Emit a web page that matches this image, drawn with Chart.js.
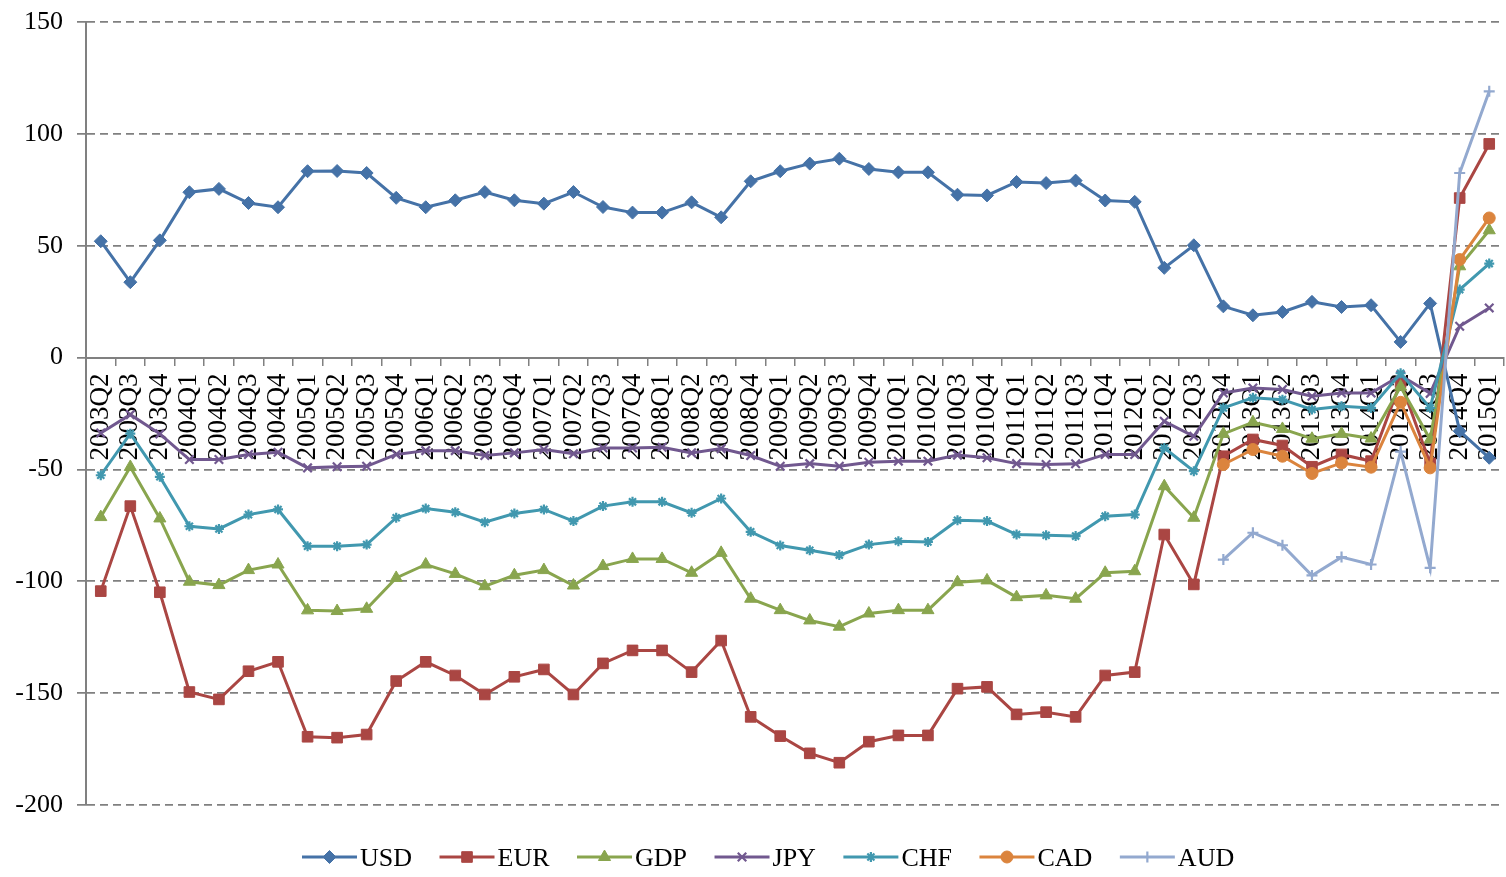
<!DOCTYPE html>
<html>
<head>
<meta charset="utf-8">
<title>Currency chart</title>
<script src="https://cdn.jsdelivr.net/npm/chart.js@4/dist/chart.umd.min.js"></script>
<style>
  html, body { margin: 0; padding: 0; background: #fff; }
  #fxChart { display: block; }
</style>
</head>
<body>
<canvas id="fxChart" width="1506" height="877"></canvas>
<script>
const quarters = [
    '2003Q2', '2003Q3', '2003Q4',
    '2004Q1', '2004Q2', '2004Q3', '2004Q4',
    '2005Q1', '2005Q2', '2005Q3', '2005Q4',
    '2006Q1', '2006Q2', '2006Q3', '2006Q4',
    '2007Q1', '2007Q2', '2007Q3', '2007Q4',
    '2008Q1', '2008Q2', '2008Q3', '2008Q4',
    '2009Q1', '2009Q2', '2009Q3', '2009Q4',
    '2010Q1', '2010Q2', '2010Q3', '2010Q4',
    '2011Q1', '2011Q2', '2011Q3', '2011Q4',
    '2012Q1', '2012Q2', '2012Q3', '2012Q4',
    '2013Q1', '2013Q2', '2013Q3', '2013Q4',
    '2014Q1', '2014Q2', '2014Q3', '2014Q4',
    '2015Q1'
];

const usd = [
    52.0, 33.7, 52.4, 73.9, 75.4, 69.1, 67.2, 83.3, 83.4, 82.5, 71.4, 67.2,
    70.3, 74.0, 70.3, 68.8, 74.0, 67.3, 64.8, 64.8, 69.4, 62.7, 78.8, 83.3,
    86.7, 88.9, 84.3, 82.8, 82.8, 72.8, 72.5, 78.5, 78.0, 79.1, 70.2, 69.6,
    40.1, 50.2, 22.9, 18.9, 20.4, 24.9, 22.6, 23.4, 7.0, 24.2, -32.9, -44.8
];

const eur = [
    -104.4, -66.4, -104.9, -149.5, -152.8, -140.2, -136.0, -169.5, -169.9, -168.5, -144.6, -136.0,
    -142.1, -150.6, -142.7, -139.4, -150.6, -136.7, -130.9, -130.9, -140.6, -126.5, -160.6, -169.2,
    -176.9, -181.1, -171.7, -168.9, -168.9, -148.0, -147.2, -159.5, -158.5, -160.6, -142.1, -140.6,
    -79.1, -101.4, -44.1, -36.6, -39.3, -48.8, -43.3, -46.3, -11.0, -47.3, 71.3, 95.5
];

const gdp = [
    -71.3, -48.9, -71.9, -100.2, -101.7, -95.0, -92.5, -113.0, -113.3, -112.3, -98.5, -92.5,
    -96.7, -102.2, -97.3, -95.0, -101.9, -93.2, -90.0, -90.0, -96.2, -87.3, -107.8, -112.9,
    -117.5, -120.3, -114.4, -112.9, -112.9, -100.4, -99.6, -107.1, -106.3, -107.8, -96.2, -95.5,
    -57.5, -71.6, -34.1, -28.9, -31.9, -36.3, -34.1, -36.2, -13.0, -36.6, 40.8, 56.9
];

const jpy = [
    -33.7, -25.5, -34.1, -45.6, -45.6, -43.3, -42.3, -49.3, -48.8, -48.6, -43.3, -41.6,
    -41.6, -43.8, -42.6, -41.1, -43.0, -40.4, -40.4, -40.1, -42.6, -40.7, -43.8, -48.6,
    -47.4, -48.6, -46.8, -46.3, -46.3, -43.6, -44.8, -47.4, -47.8, -47.5, -43.3, -43.3,
    -28.5, -35.2, -15.8, -13.6, -14.3, -17.3, -15.8, -15.8, -8.0, -16.0, 14.0, 22.2
];

const chf = [
    -52.6, -34.0, -53.3, -75.4, -76.6, -70.2, -67.9, -84.3, -84.3, -83.6, -71.6, -67.5,
    -69.1, -73.6, -69.7, -67.9, -73.1, -66.4, -64.5, -64.5, -69.4, -63.0, -77.9, -84.0,
    -86.1, -88.3, -83.6, -82.1, -82.4, -72.7, -73.1, -79.1, -79.4, -79.8, -70.9, -70.2,
    -40.4, -50.8, -22.5, -18.0, -18.8, -23.2, -21.8, -22.5, -7.0, -22.5, 30.4, 42.0
];

// CAD and AUD only start in 2012Q4
const cad = [
    null, null, null, null, null, null, null, null, null, null, null, null,
    null, null, null, null, null, null, null, null, null, null, null, null,
    null, null, null, null, null, null, null, null, null, null, null, null,
    null, null, -47.8, -41.1, -44.1, -51.8, -47.1, -49.0, -20.0, -49.3, 43.8, 62.4
];

const aud = [
    null, null, null, null, null, null, null, null, null, null, null, null,
    null, null, null, null, null, null, null, null, null, null, null, null,
    null, null, null, null, null, null, null, null, null, null, null, null,
    null, null, -90.3, -78.3, -83.9, -97.4, -89.2, -92.5, -42.0, -94.0, 82.5, 119.0
];

const yMin = -200;
const yMax = 150;
const yStep = 50;

const serif = '"Liberation Serif", "Times New Roman", serif';
const gridGray = '#808080';

let series = (label, data, color, pointStyle, radius, order, stroked) => {
    return {
        label: label,
        data: data,
        borderColor: color,
        backgroundColor: color,
        borderWidth: 3,
        pointStyle: pointStyle,
        pointRadius: radius,
        pointBorderWidth: stroked ? 2.2 : 1,
        pointBorderColor: color,
        pointBackgroundColor: color,
        tension: 0,
        spanGaps: false,
        order: order
    };
};

// scales should not push the plot area around, layout padding does that
let noScalePadding = (scale) => {
    scale.paddingTop = 0;
    scale.paddingBottom = 0;
    scale.paddingLeft = 0;
    scale.paddingRight = 0;
};

// legend drawn by hand: line sample with the marker sitting on it
const lineLegend = {
    id: 'lineLegend',
    afterDraw: (chart) => {
        const ctx = chart.ctx;
        const y = 857;
        let x = 302;
        ctx.save();
        ctx.font = '26px ' + serif;
        ctx.textBaseline = 'alphabetic';
        chart.data.datasets.forEach(ds => {
            ctx.strokeStyle = ds.borderColor;
            ctx.lineWidth = 3;
            ctx.beginPath();
            ctx.moveTo(x, y);
            ctx.lineTo(x + 55, y);
            ctx.stroke();

            ctx.fillStyle = ds.borderColor;
            ctx.lineWidth = ds.pointBorderWidth;
            if (Chart.helpers && Chart.helpers.drawPoint) {
                Chart.helpers.drawPoint(ctx, {
                    pointStyle: ds.pointStyle,
                    radius: ds.pointRadius,
                    borderWidth: ds.pointBorderWidth,
                    rotation: 0
                }, x + 27.5, y);
            }

            ctx.fillStyle = '#000';
            ctx.fillText(ds.label, x + 58, y + 9);
            x += 58 + ctx.measureText(ds.label).width + 27.5;
        });
        ctx.restore();
    }
};

var ctx = document.getElementById('fxChart').getContext('2d');
var fxChart = new Chart(ctx, {
    type: 'line',
    data: {
        labels: quarters,
        datasets: [
            series('USD', usd, '#4572A7', 'rectRot', 6.5, 7, false),
            series('EUR', eur, '#AA4643', 'rect', 7.5, 6, false),
            series('GDP', gdp, '#89A54E', 'triangle', 7, 5, false),
            series('JPY', jpy, '#71588F', 'crossRot', 6, 4, true),
            series('CHF', chf, '#4198AF', 'star', 5, 3, true),
            series('CAD', cad, '#DB843D', 'circle', 6, 2, false),
            series('AUD', aud, '#93A9CF', 'cross', 5.5, 1, true)
        ]
    },
    options: {
        responsive: false,
        animation: false,
        layout: {
            autoPadding: false,
            padding: { top: 22, right: 2, bottom: 72, left: 0 }
        },
        plugins: {
            legend: { display: false },
            tooltip: { enabled: false }
        },
        scales: {
            x: {
                type: 'category',
                position: { y: 0 },
                offset: true,
                afterFit: (scale) => {
                    scale.height = 0;
                    noScalePadding(scale);
                },
                grid: {
                    offset: true,
                    drawOnChartArea: false,
                    drawTicks: true,
                    tickLength: 7,
                    color: gridGray,
                    lineWidth: 1.5
                },
                border: { display: true, color: gridGray, width: 2 },
                ticks: {
                    autoSkip: false,
                    minRotation: 90,
                    maxRotation: 90,
                    padding: 9,
                    color: '#000',
                    font: { family: serif, size: 27 }
                }
            },
            y: {
                min: yMin,
                max: yMax,
                afterFit: (scale) => {
                    scale.width = 86;
                    noScalePadding(scale);
                },
                grid: {
                    color: gridGray,
                    lineWidth: 1.75,
                    tickLength: 9,
                    tickBorderDash: [],
                    borderDash: [8, 5]
                },
                border: { display: true, color: gridGray, width: 2, dash: [8, 5] },
                ticks: {
                    stepSize: yStep,
                    padding: 14,
                    color: '#000',
                    font: { family: serif, size: 26 }
                }
            }
        }
    },
    plugins: [lineLegend]
});
</script>
</body>
</html>
